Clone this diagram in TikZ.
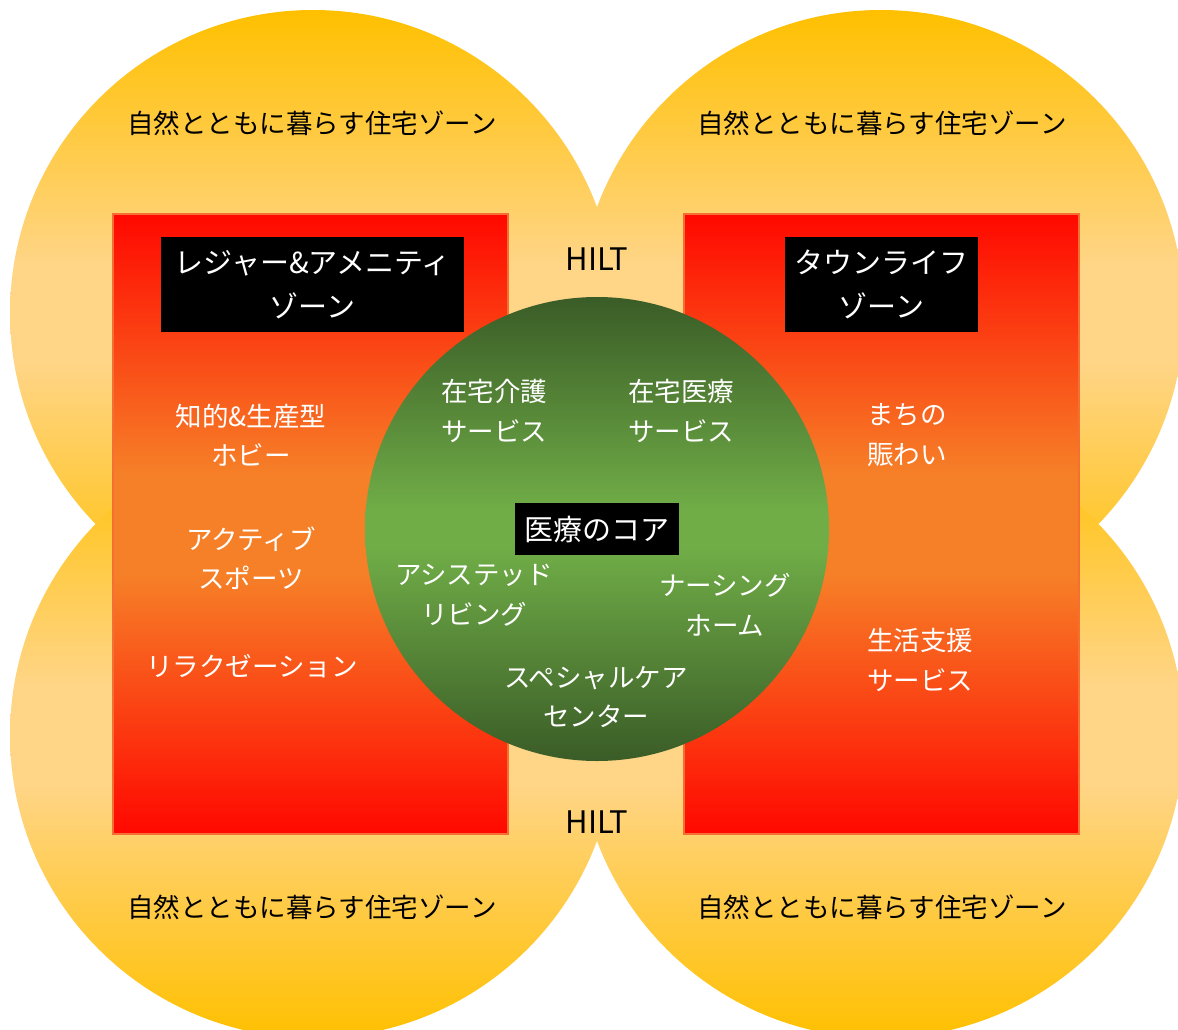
\documentclass[tikz,border=0pt]{standalone}
\usepackage{fontspec}
\setmainfont{Noto Sans CJK JP}
\definecolor{gold}{RGB}{255,192,0}
\definecolor{lightgold}{RGB}{255,213,135}
\definecolor{zred}{RGB}{255,8,0}
\definecolor{zorange}{RGB}{246,128,40}
\definecolor{zborder}{RGB}{245,110,50}
\definecolor{dgreen}{RGB}{58,92,39}
\definecolor{mgreen}{RGB}{112,173,71}
\pgfdeclareverticalshading{goldzone}{100bp}{color(0bp)=(gold); color(25bp)=(gold); color(46bp)=(lightgold); color(54bp)=(lightgold); color(75bp)=(gold); color(100bp)=(gold)}
\pgfdeclareverticalshading{redzoneshade}{100bp}{color(0bp)=(zred); color(25bp)=(zred); color(46bp)=(zorange); color(54bp)=(zorange); color(75bp)=(zred); color(100bp)=(zred)}
\pgfdeclareverticalshading{coreshade}{100bp}{color(0bp)=(dgreen); color(25bp)=(dgreen); color(48bp)=(mgreen); color(52bp)=(mgreen); color(75bp)=(dgreen); color(100bp)=(dgreen)}
\begin{document}
\begin{tikzpicture}[x=1pt,y=-1pt,
  zone/.style={circle, inner sep=0pt, outer sep=0pt, minimum size=606pt,
    shade, shading=goldzone},
  redzone/.style={rectangle, inner sep=0pt, outer sep=0pt, minimum width=395pt, minimum height=620pt,
    shade, shading=redzoneshade, draw=zborder, line width=1.5pt},
  core/.style={circle, inner sep=0pt, outer sep=0pt, minimum size=464pt,
    shade, shading=coreshade},
  blackbox/.style={rectangle, fill=black, text=white, inner sep=0pt, align=center,
    font=\fontsize{29}{44}\selectfont},
  darktext/.style={text=black, inner sep=0pt, align=center, font=\fontsize{26.5}{40}\selectfont},
  whitetext/.style={text=white, inner sep=0pt, align=center, font=\fontsize{26.5}{39.5}\selectfont},
  hilt/.style={text=black, inner sep=0pt, font=\fontsize{31}{36}\selectfont}
]
\useasboundingbox (0,0) rectangle (1178,1030);
\clip (0,0) rectangle (1178,1030);
\fill[white] (0,0) rectangle (1178,1030);

% four housing zones
\node[zone] (ztl) at (313,313) {};
\node[zone] (ztr) at (881,313) {};
\node[zone] (zbl) at (313,735) {};
\node[zone] (zbr) at (881,735) {};

% red zones
\node[redzone] (lz) at (310.5,524) {};
\node[redzone] (rz) at (881.5,524) {};

% green core
\node[core] (cc) at (597,529) {};

% black title boxes
\node[blackbox, minimum width=303pt, minimum height=95pt] (lt) at (312.5,284.5) {レジャー\&アメニティ\\ゾーン};
\node[blackbox, minimum width=193pt, minimum height=95pt] (rt) at (881.5,284.5) {タウンライフ\\ゾーン};
\node[blackbox, minimum width=164pt, minimum height=52pt] (ct) at (597,529) {医療のコア};

% housing zone labels
\node[darktext] (htl) at (312,123) {自然とともに暮らす住宅ゾーン};
\node[darktext] (htr) at (882,123) {自然とともに暮らす住宅ゾーン};
\node[darktext] (hbl) at (312,907) {自然とともに暮らす住宅ゾーン};
\node[darktext] (hbr) at (882,907) {自然とともに暮らす住宅ゾーン};

% HILT
\node[hilt] (h1) at (597,259) {HILT};
\node[hilt] (h2) at (597,822) {HILT};

% left zone items
\node[whitetext] (l1) at (251,435) {知的\&生産型\\ホビー};
\node[whitetext] (l2) at (251,558) {アクティブ\\スポーツ};
\node[whitetext] (l3) at (252,666) {リラクゼーション};

% right zone items
\node[whitetext, anchor=west, align=left] (r1) at (867,435) {まちの\\賑わい};
\node[whitetext, anchor=west, align=left] (r2) at (867,660) {生活支援\\サービス};

% core items
\node[whitetext] (c1) at (494,411) {在宅介護\\サービス};
\node[whitetext] (c2) at (681,411) {在宅医療\\サービス};
\node[whitetext] (c3) at (474,595) {アシステッド\\リビング};
\node[whitetext] (c4) at (725,605) {ナーシング\\ホーム};
\node[whitetext] (c5) at (596,697) {スペシャルケア\\センター};
\end{tikzpicture}
\end{document}
